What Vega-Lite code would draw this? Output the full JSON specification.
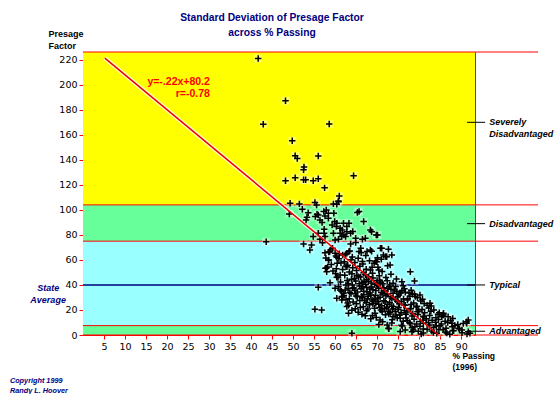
{
  "$schema": "https://vega.github.io/schema/vega-lite/v6.json",
  "width": 392,
  "height": 283,
  "autosize": "none",
  "padding": {"left": 83, "top": 52, "right": 79, "bottom": 59},
  "background": "white",
  "config": {
    "view": {"stroke": "#ff0000", "strokeWidth": 1},
    "text": {"lineBreak": "\n"},
    "axis": {"labelOverlap": false, "labelBound": false, "labelFlush": false, "domain": false, "grid": false, "tickColor": "#ff0000", "tickSize": 4, "labelFont": "DejaVu Sans", "labelFontSize": 9.5, "labelColor": "black", "labelPadding": 2}
  },
  "title": {
    "text": ["Standard Deviation of Presage Factor", "across % Passing"],
    "anchor": "middle",
    "dx": -7,
    "dy": 23,
    "offset": 14,
    "color": "#000080",
    "font": "Liberation Sans",
    "fontSize": 10.3,
    "fontWeight": "bold",
    "lineHeight": 15
  },
  "datasets": {
    "bands": [
      {"zone": "Severely Disadvantaged", "lo": 104, "hi": 226.2},
      {"zone": "Disadvantaged", "lo": 75, "hi": 104},
      {"zone": "Typical", "lo": 7.5, "hi": 75},
      {"zone": "Advantaged", "lo": 0, "hi": 7.5}
    ],
    "limits": [{"y": 0}, {"y": 7.5}, {"y": 75}, {"y": 104}, {"y": 226.2}],
    "labels": [
      {"label": "Severely\nDisadvantaged", "y": 170},
      {"label": "Disadvantaged", "y": 89},
      {"label": "Typical", "y": 40},
      {"label": "Advantaged", "y": 3}
    ],
    "reg": [{"x": 5.2, "y": 221.3}, {"x": 84.6, "y": 0}],
    "points": [
      {"x":41.7,"y":221},{"x":48.2,"y":187.2},{"x":42.9,"y":168.5},{"x":58.6,"y":168.7},{"x":49.8,"y":155.2},{"x":50.5,"y":143.2},{"x":51.0,"y":141},{"x":56.0,"y":143},{"x":52.6,"y":134.2},{"x":52.5,"y":132},{"x":48.2,"y":123.2},{"x":50.5,"y":125.6},{"x":52.5,"y":124},{"x":53.0,"y":124},{"x":54.8,"y":123.2},{"x":56.0,"y":124.8},{"x":57.5,"y":117.6},{"x":64.4,"y":127.2},{"x":61.0,"y":111.2},{"x":60.8,"y":107.2},
      {"x":49.3,"y":105.3},{"x":51.5,"y":104.8},{"x":55.2,"y":105.9},{"x":55.6,"y":104},{"x":59.6,"y":104.8},{"x":60.8,"y":106.6},{"x":60.4,"y":104.5},
      {"x":49.1,"y":96.8},{"x":52.2,"y":100.5},{"x":53.6,"y":97.8},{"x":53.3,"y":94.1},{"x":53.1,"y":92},{"x":56,"y":96},{"x":56.4,"y":92},{"x":57.9,"y":100},{"x":58.4,"y":97.3},{"x":57.6,"y":95.2},{"x":58.4,"y":93.3},{"x":57.4,"y":84.5},{"x":57.4,"y":81.3},{"x":57.6,"y":78.7},{"x":54.8,"y":78.7},{"x":56,"y":81.3},{"x":59.6,"y":81.3},{"x":60,"y":76},{"x":61.2,"y":81.3},{"x":60.8,"y":76.5},{"x":61.6,"y":78.7},{"x":60.4,"y":89.3},{"x":62,"y":89.3},{"x":62.8,"y":86.7},{"x":61.2,"y":85.3},{"x":62.8,"y":82.6},
      {"x":59.7,"y":97.3},{"x":59.9,"y":90.7},{"x":60.3,"y":86.7},{"x":61.7,"y":84},{"x":63.3,"y":89.3},{"x":63.7,"y":81.3},{"x":64.2,"y":82.7},{"x":65.7,"y":98.7},{"x":65.3,"y":97.9},{"x":66.8,"y":90.7},{"x":68.4,"y":84},{"x":69.8,"y":80},{"x":62.1,"y":80},{"x":62.5,"y":78.7},{"x":64.9,"y":77.3},{"x":66.5,"y":76.5},{"x":67.2,"y":77.3},{"x":68.7,"y":82.6},{"x":70.1,"y":80},{"x":43.6,"y":74.6},{"x":59.3,"y":88},{"x":56.9,"y":89.9},{"x":55.3,"y":94.7},{"x":55.7,"y":96.5},{"x":57.3,"y":98.7},
      {"x":52.5,"y":72.8},{"x":54.4,"y":72},{"x":54,"y":68},{"x":56.4,"y":76.5},{"x":57,"y":73.8},{"x":57.6,"y":65.8},{"x":58.7,"y":66.6},{"x":59.4,"y":69.3},{"x":60,"y":65.3},{"x":60.4,"y":62.1},{"x":61.8,"y":64},{"x":62.8,"y":65.3},{"x":71.1,"y":69.4},{"x":72.7,"y":68.6},{"x":73.5,"y":64},{"x":71.5,"y":64},{"x":72.3,"y":62.6},{"x":69.9,"y":58.6},{"x":73.1,"y":56},{"x":77.9,"y":50.6},{"x":78.9,"y":43.2},
      {"x":58.9,"y":68},{"x":58.5,"y":60},{"x":57.7,"y":53.3},{"x":60.5,"y":57.3},{"x":63.3,"y":66.7},{"x":63.7,"y":72.8},{"x":64.9,"y":73.9},{"x":65.7,"y":66.7},{"x":66.1,"y":69.3},{"x":67.6,"y":66.7},{"x":68.4,"y":68},{"x":70.8,"y":69.3},{"x":72,"y":62.7},{"x":69.6,"y":58.7},{"x":68.8,"y":54.1},{"x":70.4,"y":52},{"x":66.5,"y":58.7},
      {"x":57.9,"y":53.3},{"x":58,"y":50.6},{"x":61.2,"y":48},{"x":62.8,"y":54.6},{"x":60.4,"y":46.1},{"x":58.8,"y":41.8},{"x":56,"y":38.2},{"x":60,"y":37.3},{"x":61.2,"y":36},{"x":62,"y":33.3},{"x":61.6,"y":30.7},{"x":60.4,"y":29.3},{"x":61.6,"y":28},{"x":62.8,"y":22.7},{"x":63.2,"y":17.3},{"x":55.2,"y":20.5},{"x":56.8,"y":20},{"x":64,"y":1.4},
      {"x":80.2,"y":32},{"x":78.4,"y":32.6},{"x":82.6,"y":25.4},{"x":82.9,"y":23.2},{"x":85.8,"y":16},{"x":85.4,"y":14.6},{"x":85.8,"y":17.4},{"x":87.8,"y":9.4},{"x":90.2,"y":4},{"x":89.4,"y":5.4},{"x":91.7,"y":12},{"x":91.3,"y":9.4},{"x":92.1,"y":1.4},{"x":91.3,"y":10.6},{"x":91.7,"y":2.6},
      {"x":72.7,"y":5.4},{"x":76.7,"y":4},{"x":78.3,"y":2.5},{"x":79.8,"y":3},{"x":81,"y":4.8},{"x":83.4,"y":2},{"x":86.6,"y":1.5},{"x":88.2,"y":3.4},{"x":91.4,"y":0.8},
      {"x":58.5,"y":66.4},{"x":61,"y":64.9},{"x":63.5,"y":67.2},{"x":66.2,"y":65.7},{"x":68.7,"y":66.9},
      {"x":57.8,"y":61.6},{"x":60.2,"y":63.2},{"x":62.5,"y":64.3},{"x":64.1,"y":62.3},{"x":67.3,"y":63.6},{"x":70.1,"y":61.8},
      {"x":58.4,"y":59.7},{"x":60.9,"y":60.9},{"x":62.2,"y":58.6},{"x":63.8,"y":60.2},{"x":65.5,"y":61.3},{"x":68.2,"y":59.3},{"x":71,"y":60.6},
      {"x":59.1,"y":56.3},{"x":61.4,"y":57.6},{"x":63,"y":55.8},{"x":64.7,"y":58},{"x":66.6,"y":56.8},{"x":69.3,"y":57.4},
      {"x":58.2,"y":54.4},{"x":60.3,"y":52.9},{"x":62.6,"y":55.2},{"x":64.2,"y":53.7},{"x":65.9,"y":54.9},{"x":67.4,"y":52.6},{"x":70.2,"y":54.2},{"x":72.5,"y":55.3},
      {"x":59.5,"y":51.2},{"x":61.8,"y":52.3},{"x":63.4,"y":50.3},{"x":65.1,"y":51.6},{"x":66.8,"y":49.8},{"x":68.4,"y":52},{"x":71.2,"y":50.8},
      {"x":60.1,"y":49.2},{"x":62.3,"y":47.7},{"x":64,"y":48.9},{"x":65.6,"y":46.6},{"x":67.2,"y":48.2},{"x":68.9,"y":49.3},{"x":70.5,"y":47.3},{"x":73.3,"y":48.6},
      {"x":60.7,"y":45.9},{"x":62.9,"y":43.6},{"x":64.6,"y":45.2},{"x":66.1,"y":46.3},{"x":67.5,"y":44.3},{"x":69,"y":45.6},{"x":70.6,"y":43.8},{"x":72.1,"y":46},{"x":74.6,"y":44.8},
      {"x":61.3,"y":42.4},{"x":63.2,"y":40.9},{"x":64.9,"y":43.2},{"x":66.4,"y":41.7},{"x":67.9,"y":42.9},{"x":69.4,"y":40.6},{"x":70.9,"y":42.2},{"x":72.4,"y":43.3},{"x":73.8,"y":41.3},{"x":75.9,"y":42.6},
      {"x":60.8,"y":38.7},{"x":62.6,"y":39.9},{"x":64.2,"y":37.6},{"x":65.8,"y":39.2},{"x":67.3,"y":40.3},{"x":68.7,"y":38.3},{"x":70.1,"y":39.6},{"x":71.6,"y":37.8},{"x":73,"y":40},{"x":74.4,"y":38.8},{"x":76.2,"y":39.4},
      {"x":61.5,"y":34.9},{"x":63.1,"y":37.2},{"x":64.7,"y":35.7},{"x":66.2,"y":36.9},{"x":67.6,"y":34.6},{"x":69,"y":36.2},{"x":70.4,"y":37.3},{"x":71.8,"y":35.3},{"x":73.3,"y":36.6},{"x":74.7,"y":34.8},{"x":76.5,"y":37},{"x":78.1,"y":35.8},
      {"x":62.1,"y":31.6},{"x":63.8,"y":33.2},{"x":65.3,"y":34.3},{"x":66.8,"y":32.3},{"x":68.2,"y":33.6},{"x":69.6,"y":31.8},{"x":71,"y":34},{"x":72.4,"y":32.8},{"x":73.8,"y":33.4},{"x":75.2,"y":31.9},{"x":76.7,"y":34.2},{"x":78.9,"y":32.7},
      {"x":61.7,"y":30.4},{"x":63.4,"y":28.9},{"x":65,"y":31.2},{"x":66.5,"y":29.7},{"x":67.9,"y":30.9},{"x":69.3,"y":28.6},{"x":70.7,"y":30.2},{"x":72.1,"y":31.3},{"x":73.5,"y":29.3},{"x":74.9,"y":30.6},{"x":76.3,"y":28.8},{"x":77.8,"y":31},{"x":79.6,"y":29.8},
      {"x":62.6,"y":28.3},{"x":64.3,"y":26.3},{"x":65.9,"y":27.6},{"x":67.4,"y":25.8},{"x":68.8,"y":28},{"x":70.2,"y":26.8},{"x":71.6,"y":27.4},{"x":73,"y":25.9},{"x":74.4,"y":28.2},{"x":75.8,"y":26.7},{"x":77.2,"y":27.9},{"x":78.7,"y":25.6},{"x":80.4,"y":27.2},
      {"x":63.2,"y":23.7},{"x":65.1,"y":24.9},{"x":66.7,"y":22.6},{"x":68.2,"y":24.2},{"x":69.7,"y":25.3},{"x":71.1,"y":23.3},{"x":72.5,"y":24.6},{"x":73.9,"y":22.8},{"x":75.3,"y":25},{"x":76.7,"y":23.8},{"x":78.1,"y":24.4},{"x":79.5,"y":22.9},{"x":81.2,"y":25.2},
      {"x":64,"y":19.8},{"x":66,"y":22},{"x":67.8,"y":20.8},{"x":69.4,"y":21.4},{"x":70.9,"y":19.9},{"x":72.3,"y":22.2},{"x":73.7,"y":20.7},{"x":75.1,"y":21.9},{"x":76.5,"y":19.6},{"x":77.9,"y":21.2},{"x":79.3,"y":22.3},{"x":80.7,"y":20.3},{"x":82.3,"y":21.6},
      {"x":65.5,"y":18.2},{"x":67.5,"y":19.3},{"x":69.5,"y":17.3},{"x":71.2,"y":18.6},{"x":72.8,"y":16.8},{"x":74.3,"y":19},{"x":75.7,"y":17.8},{"x":77.1,"y":18.4},{"x":78.5,"y":16.9},{"x":79.9,"y":19.2},{"x":81.3,"y":17.7},{"x":82.8,"y":18.9},{"x":84.5,"y":16.6},
      {"x":67.2,"y":15.4},{"x":69.8,"y":13.9},{"x":72,"y":16.2},{"x":73.8,"y":14.7},{"x":75.4,"y":15.9},{"x":76.9,"y":13.6},{"x":78.3,"y":15.2},{"x":79.7,"y":16.3},{"x":81.1,"y":14.3},{"x":82.5,"y":15.6},{"x":84,"y":13.8},{"x":85.6,"y":16},
      {"x":68.5,"y":12.9},{"x":71.3,"y":10.6},{"x":73.6,"y":12.2},{"x":75.5,"y":13.3},{"x":77.2,"y":11.3},{"x":78.8,"y":12.6},{"x":80.3,"y":10.8},{"x":81.7,"y":13},{"x":83.1,"y":11.8},{"x":84.6,"y":12.4},{"x":86.2,"y":10.9},{"x":88,"y":13.2},
      {"x":70.4,"y":8.3},{"x":73.5,"y":9.6},{"x":75.8,"y":7.8},{"x":77.7,"y":10},{"x":79.4,"y":8.8},{"x":81,"y":9.4},{"x":82.5,"y":7.9},{"x":83.9,"y":10.2},{"x":85.3,"y":8.7},{"x":86.8,"y":9.9},{"x":88.5,"y":7.6},{"x":90.5,"y":9.2},
      {"x":72.8,"y":4.9},{"x":76,"y":7.2},{"x":78.3,"y":5.7},{"x":80.2,"y":6.9},{"x":81.9,"y":4.6},{"x":83.5,"y":6.2},{"x":85,"y":7.3},{"x":86.4,"y":5.3},{"x":87.9,"y":6.6},{"x":89.6,"y":4.8},
      {"x":75.5,"y":2.7},{"x":78.6,"y":3.9},{"x":81,"y":1.6},{"x":83,"y":3.2},{"x":84.7,"y":4.3},{"x":86.3,"y":2.3},{"x":88,"y":3.6},{"x":90.2,"y":1.8},
      {"x":80.5,"y":0.8},{"x":84.2,"y":1.3},{"x":87.3,"y":0.6},
      {"x":64.5,"y":37.5},{"x":66.8,"y":35},{"x":68.5,"y":32},{"x":70.2,"y":29.5},{"x":71.9,"y":26.5},{"x":73.5,"y":23},{"x":75,"y":20.5},{"x":76.8,"y":16.5},{"x":65.3,"y":30.5},{"x":67,"y":27.5},{"x":69,"y":25},{"x":70.6,"y":22},{"x":72.7,"y":19},{"x":74.5,"y":16},{"x":63.5,"y":34},{"x":65.8,"y":41},{"x":67.5,"y":38},{"x":69.7,"y":35.5},{"x":71.4,"y":33},{"x":73.2,"y":30.5},{"x":74.8,"y":27},{"x":76.4,"y":24},{"x":78,"y":21},{"x":79.6,"y":18.5},{"x":81,"y":15},{"x":77.3,"y":29},{"x":75.6,"y":33.5},{"x":72.6,"y":37},{"x":70,"y":43.5},{"x":68,"y":46.5},
      {"x":63.9,"y":44.5},{"x":65.2,"y":47.8},{"x":66.9,"y":43},{"x":68.6,"y":41.5},{"x":69.9,"y":40.8},{"x":71.3,"y":41},{"x":72.9,"y":38.5},{"x":74.1,"y":36},{"x":75.9,"y":35.5},{"x":77.6,"y":33.5},{"x":79.1,"y":30.8},{"x":80.8,"y":28.5},{"x":81.9,"y":23.8},{"x":83.5,"y":20},{"x":84.8,"y":17.8},{"x":86.9,"y":14.5},{"x":87.5,"y":11.5},{"x":89.2,"y":8.4},{"x":64.8,"y":33},{"x":66.3,"y":31},{"x":67.7,"y":29},{"x":69.1,"y":27},{"x":70.4,"y":24.5},{"x":71.8,"y":21},{"x":73.1,"y":18},{"x":74.8,"y":13.5},{"x":76.2,"y":11},{"x":77.9,"y":8.9},{"x":79,"y":6.5},{"x":80.9,"y":11.8},{"x":82.2,"y":9.9},{"x":84.1,"y":7.1},{"x":85.7,"y":4.1},{"x":68.3,"y":36.8},{"x":66.6,"y":38.5},{"x":64.1,"y":40},{"x":62.4,"y":36},{"x":63,"y":25.5},{"x":64.8,"y":21},{"x":66.4,"y":16.5},{"x":68.9,"y":15.5},{"x":70.7,"y":12},{"x":72.4,"y":8}
    ]
  },
  "encoding": {
    "x": {"type": "quantitative", "scale": {"domain": [0, 93.3], "nice": false, "zero": false}, "axis": {
      "values": [5,10,15,20,25,30,35,40,45,50,55,60,65,70,75,80,85,90],
      "labelOverlap": false,
      "title": ["% Passing", "(1996)"], "titleFont": "Liberation Sans", "titleFontSize": 8.5, "titleFontWeight": "bold",
      "titleColor": "black", "titleAlign": "left", "titleAnchor": "start", "titleBaseline": "top", "titleX": 369, "titleY": 16, "titleLineHeight": 11
    }},
    "y": {"type": "quantitative", "scale": {"domain": [0, 226.2], "nice": false, "zero": false}, "axis": {
      "values": [0,20,40,60,80,100,120,140,160,180,200,220],
      "labelOverlap": false,
      "title": ["Presage", "Factor"], "titleFont": "Liberation Sans", "titleFontSize": 9, "titleFontWeight": "bold",
      "titleColor": "black", "titleAngle": 0, "titleAlign": "left", "titleBaseline": "top", "titleX": -35, "titleY": -23, "titleLineHeight": 12.5
    }}
  },
  "layer": [
    {
      "data": {"name": "bands"},
      "mark": {"type": "rect"},
      "encoding": {
        "x": {"datum": 0},
        "x2": {"datum": 93.3},
        "y": {"field": "lo"},
        "y2": {"field": "hi"},
        "color": {"field": "zone", "type": "nominal", "legend": null, "scale": {
          "domain": ["Severely Disadvantaged", "Disadvantaged", "Typical", "Advantaged"],
          "range": ["#ffff00", "#66ff99", "#99ffff", "#66ff99"]}}
      }
    },
    {
      "data": {"name": "limits"},
      "mark": {"type": "rule", "color": "#ff0000", "strokeWidth": 1},
      "encoding": {
        "x": {"datum": 0},
        "x2": {"datum": 108.3},
        "y": {"field": "y"}
      }
    },
    {
      "data": {"values": [{"y": 40}]},
      "mark": {"type": "rule", "color": "#000080", "strokeWidth": 1.5},
      "encoding": {
        "x": {"datum": 0},
        "x2": {"datum": 93.3},
        "y": {"field": "y"}
      }
    },
    {
      "data": {"name": "reg"},
      "mark": {"type": "line", "color": "white", "strokeWidth": 4, "opacity": 0.8},
      "encoding": {
        "x": {"field": "x"},
        "y": {"field": "y"}
      }
    },
    {
      "data": {"name": "points"},
      "mark": {"type": "point", "shape": "square", "filled": true, "color": "white", "opacity": 0.35, "size": 64},
      "encoding": {
        "x": {"field": "x"},
        "y": {"field": "y"}
      }
    },
    {
      "data": {"name": "points"},
      "mark": {"type": "point", "shape": "M-1,0L1,0M0,-1L0,1", "filled": false, "stroke": "black", "strokeWidth": 1.5, "opacity": 1, "size": 42},
      "encoding": {
        "x": {"field": "x"},
        "y": {"field": "y"}
      }
    },
    {
      "data": {"name": "reg"},
      "mark": {"type": "line", "color": "#ee0000", "strokeWidth": 1.5},
      "encoding": {
        "x": {"field": "x"},
        "y": {"field": "y"}
      }
    },
    {
      "data": {"values": [{"label": "y=-.22x+80.2\nr=-0.78"}]},
      "mark": {"type": "text", "align": "right", "baseline": "middle", "font": "Liberation Sans", "fontSize": 10.5, "fontWeight": "bold", "color": "#ff0000", "lineHeight": 12},
      "encoding": {
        "x": {"datum": 30.2},
        "y": {"datum": 202},
        "text": {"field": "label"}
      }
    },
    {
      "data": {"name": "labels"},
      "mark": {"type": "rule", "color": "black", "strokeWidth": 1},
      "encoding": {
        "x": {"datum": 91.4},
        "x2": {"datum": 95.7},
        "y": {"field": "y"}
      }
    },
    {
      "data": {"name": "labels"},
      "mark": {"type": "text", "align": "left", "baseline": "middle", "font": "Liberation Sans", "fontSize": 9, "fontWeight": "bold", "fontStyle": "italic", "color": "black", "lineHeight": 12},
      "encoding": {
        "x": {"datum": 96.7},
        "y": {"field": "y"},
        "text": {"field": "label"}
      }
    },
    {
      "data": {"values": [{"label": "State\nAverage"}]},
      "mark": {"type": "text", "align": "center", "baseline": "middle", "font": "Liberation Sans", "fontSize": 9, "fontWeight": "bold", "fontStyle": "italic", "color": "#000080", "lineHeight": 12.5},
      "encoding": {
        "x": {"datum": -8.3},
        "y": {"datum": 37.6},
        "text": {"field": "label"}
      }
    },
    {
      "data": {"values": [{"label": "Copyright 1999\nRandy L. Hoover"}]},
      "mark": {"type": "text", "align": "left", "baseline": "middle", "font": "Liberation Sans", "fontSize": 7.3, "fontWeight": "bold", "fontStyle": "italic", "color": "#000080", "lineHeight": 10},
      "encoding": {
        "x": {"datum": -17.4},
        "y": {"datum": -36.4},
        "text": {"field": "label"}
      }
    }
  ]
}
